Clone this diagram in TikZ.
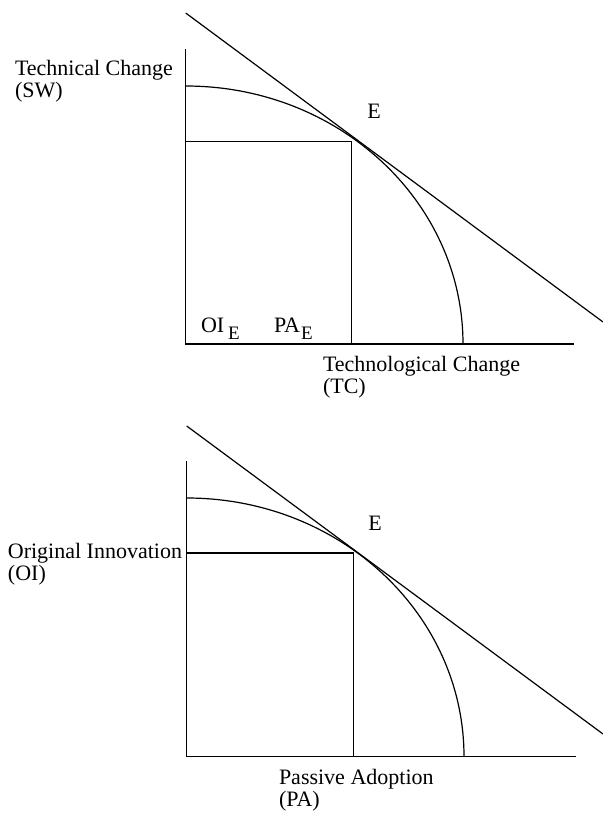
\documentclass[tikz,border=0pt]{standalone}
\usepackage{fontspec}
\setmainfont{Liberation Serif}

\begin{document}
\begin{tikzpicture}[x=0.5pt, y=0.5pt,
    lbl/.style={font=\fontsize{11}{13}\selectfont, inner sep=0pt, outer sep=0pt},
    frontier/.style={line width=0.6pt},
    axis/.style={line width=0.7pt},
]
\useasboundingbox (0,0) rectangle (603,-814);

% --- Upper panel: Technical Change vs Technological Change ---
\coordinate (o1) at (185.7,-344);
\coordinate (ytop1) at (185.7,-49);
\coordinate (xend1) at (574,-344);
\coordinate (f1) at (185.7,-86);
\coordinate (e1) at (351.7,-141.7);
\coordinate (tl1) at (185.7,-13);
\coordinate (tr1) at (603,-322);

\draw[axis] (ytop1) -- (o1) -- (xend1);
\draw[frontier] (f1) arc[start angle=90, end angle=0, x radius=277.3, y radius=258];
\draw[frontier] (o1 |- e1) -| (o1 -| e1);
\draw[frontier] (tl1) -- (tr1);

% Axis labels
\node[lbl, anchor=base west] (techch) at (15,-75) {Technical Change};
\node[lbl, anchor=base west] (sw) at (15,-97.5) {(SW)};
\node[lbl, anchor=base west] (tlgch) at (323,-371) {Technological Change};
\node[lbl, anchor=base west] (tc) at (323,-393) {(TC)};
\node[lbl, anchor=base] (eq1) at (374,-118) {E};
\node[lbl, anchor=base west] (oie) at (201,-332)
    {OI\hspace{2pt}\raisebox{-3.5pt}{\fontsize{9.5}{10}\selectfont E}};
\node[lbl, anchor=base west] (pae) at (274,-332)
    {PA\hspace{0.5pt}\raisebox{-3.5pt}{\fontsize{9.5}{10}\selectfont E}};

% --- Lower panel: Original Innovation vs Passive Adoption ---
\coordinate (o2) at (186.7,-756.7);
\coordinate (ytop2) at (186.7,-461);
\coordinate (xend2) at (575.7,-756.7);
\coordinate (f2) at (186.7,-498);
\coordinate (e2) at (353.3,-553);
\coordinate (tl2) at (186.7,-426);
\coordinate (tr2) at (603,-734);

\draw[axis] (ytop2) -- (o2) -- (xend2);
\draw[frontier] (f2) arc[start angle=90, end angle=0, x radius=277.3, y radius=258.7];
\draw[frontier] (o2 |- e2) -| (o2 -| e2);
\draw[frontier] (tl2) -- (tr2);

% Axis labels
\node[lbl, anchor=base east] (orinn) at (182,-558) {Original Innovation};
\node[lbl, anchor=base west] (oi) at (8,-580) {(OI)};
\node[lbl, anchor=base west] (pasad) at (279,-784) {Passive Adoption};
\node[lbl, anchor=base west] (pa) at (279,-806) {(PA)};
\node[lbl, anchor=base] (eq2) at (375,-530) {E};
\end{tikzpicture}
\end{document}
